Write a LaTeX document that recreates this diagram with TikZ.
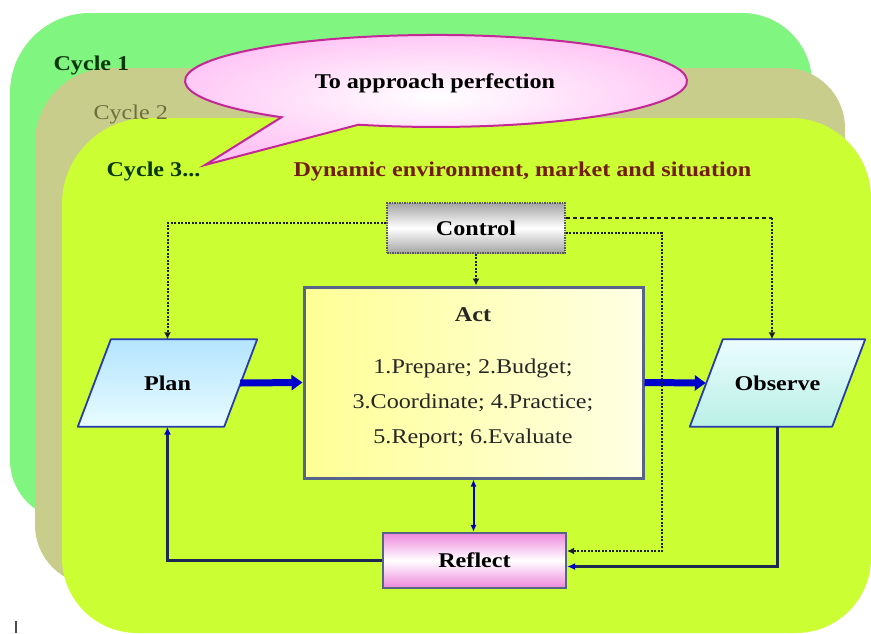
\documentclass[tikz,border=0pt]{standalone}
\usepackage{fontspec}
\setmainfont{Liberation Serif}[FakeStretch=1.15]
\usetikzlibrary{arrows.meta,calc}
\definecolor{cgreen}{RGB}{128,245,128}
\definecolor{colive}{RGB}{200,205,140}
\definecolor{cyell}{RGB}{204,255,51}
\definecolor{txtgreen}{RGB}{10,55,10}
\definecolor{txtolive}{RGB}{110,110,60}
\definecolor{txtred}{RGB}{115,30,20}
\definecolor{callpink}{RGB}{255,195,245}
\definecolor{callborder}{RGB}{195,40,150}
\definecolor{pblue}{RGB}{40,60,170}
\definecolor{planT}{RGB}{180,228,255}
\definecolor{planB}{RGB}{232,252,255}
\definecolor{obsT}{RGB}{235,252,255}
\definecolor{obsB}{RGB}{185,240,230}
\definecolor{actborder}{RGB}{85,100,135}
\definecolor{actL}{RGB}{255,255,150}
\definecolor{actR}{RGB}{255,255,228}
\definecolor{ctrlgray}{RGB}{165,165,165}
\definecolor{ctrlborder}{RGB}{90,90,90}
\definecolor{reflpink}{RGB}{238,135,220}
\definecolor{arrowblue}{RGB}{0,0,205}
\definecolor{linecol}{RGB}{30,40,80}
\definecolor{dotcol}{RGB}{30,30,30}
\begin{document}
\begin{tikzpicture}[x=1pt,y=-1pt,
  every node/.style={font=\fontsize{21}{25}\selectfont},
  lbl/.style={font=\fontsize{21}{25}\selectfont\bfseries},
  parabox/.style={minimum width=179pt, minimum height=87pt, inner sep=0pt},
  parashape/.style={draw=pblue, line width=1.8pt, line join=round},
  bigarrow/.style={line width=7pt, draw=arrowblue, -{Triangle[length=11pt,width=15pt]}},
  dotline/.style={draw=dotcol, line width=2pt, dash pattern=on 2pt off 1.5pt,
    -{Latex[length=7pt,width=7pt]}},
  dashline/.style={draw=dotcol, line width=1.8pt, dash pattern=on 4pt off 3pt},
  fbline/.style={draw=linecol, line width=2.2pt, -{Latex[length=8pt,width=7pt,color=arrowblue]}},
  bothline/.style={draw=arrowblue!85!black, line width=2pt,
    {Latex[length=7pt,width=6pt]}-{Latex[length=7pt,width=6pt]}}
]
\useasboundingbox (0,0) rectangle (871,633);
\fill[white] (0,0) rectangle (871,633);
% cycle 1
\fill[cgreen] (10,93) arc[start angle=180,end angle=270,radius=80] -- (742,13)
  arc[start angle=270,end angle=360,radius=70] -- (812,460)
  arc[start angle=0,end angle=90,radius=60] -- (70,520)
  arc[start angle=90,end angle=180,radius=60] -- cycle;
% cycle 2
\fill[colive] (35,143) arc[start angle=180,end angle=270,radius=75] -- (785,68)
  arc[start angle=270,end angle=360,radius=60] -- (845,525)
  arc[start angle=0,end angle=90,radius=60] -- (95,585)
  arc[start angle=90,end angle=180,radius=60] -- cycle;
% cycle 3
\fill[cyell] (62,204) arc[start angle=180,end angle=270,radius=86] -- (791,118)
  arc[start angle=270,end angle=360,radius=80] -- (871,558)
  arc[start angle=0,end angle=90,radius=75] -- (137,633)
  arc[start angle=90,end angle=180,radius=75] -- cycle;
\draw[line width=1.5pt, black!70] (16,621) -- (16,633);
% cycle labels
\node[lbl, text=txtgreen, anchor=west] (c1) at (50,65) {Cycle 1};
\node[text=txtolive, anchor=west] (c2) at (90,114) {Cycle 2};
\node[lbl, text=txtgreen, anchor=west] (c3) at (103,171) {Cycle 3...};
\node[lbl, text=txtred, anchor=west] (dyn) at (290,171) {Dynamic environment, market and situation};
% callout
\shadedraw[inner color=white, outer color=callpink, draw=callborder, line width=2pt]
  (281.5,117.2) arc[start angle=128,end angle=468,x radius=251,y radius=46]
  -- (205,165) -- cycle;
\node[lbl] (perf) at (435,83) {To approach perfection};
% boxes
\node[draw=ctrlborder, line width=1.5pt, dash pattern=on 1.5pt off 1pt,
  top color=ctrlgray, bottom color=ctrlgray, middle color=white,
  minimum width=178pt, minimum height=50pt, lbl] (ctrl) at (476,228) {Control};
\node[draw=actborder, line width=3pt, left color=actL, right color=actR,
  minimum width=339pt, minimum height=191pt] (act) at (473.5,382.5) {};
\node[lbl, text=black!85] (acttitle) at (473,315) {Act};
\node[align=center, text=black!85, font=\fontsize{21}{35}\selectfont] (actbody) at (473,403)
  {1.Prepare; 2.Budget;\\3.Coordinate; 4.Practice;\\5.Report; 6.Evaluate};
% plan parallelogram
\node[parabox] (plan) at (167.5,383) {};
\shadedraw[parashape, top color=planT, bottom color=planB]
  ([xshift=33pt]plan.north west) -- (plan.north east)
  -- ([xshift=-33pt]plan.south east) -- (plan.south west) -- cycle;
\node[lbl] (plantxt) at (plan.center) {Plan};
% observe parallelogram
\node[parabox, minimum width=175pt] (obs) at (777.5,383) {};
\shadedraw[parashape, top color=obsT, bottom color=obsB]
  ([xshift=33pt]obs.north west) -- (obs.north east)
  -- ([xshift=-33pt]obs.south east) -- (obs.south west) -- cycle;
\node[lbl] (obstxt) at (obs.center) {Observe};
\node[draw=actborder, line width=2.2pt, top color=reflpink, bottom color=reflpink,
  middle color=white, minimum width=183pt, minimum height=55pt, lbl] (refl) at (474.5,560.5) {Reflect};
% connectors
\draw[bigarrow] ([xshift=-17pt]plan.east) -- (act.west);
\draw[bigarrow] (act.east) -- ([xshift=16pt]obs.west);
\draw[dotline] (ctrl.south) -- (ctrl.south |- act.north);
\draw[dotline] ([yshift=5pt]ctrl.west) -| (plan.north);
\coordinate (cobs) at (772,218);
\draw[dashline] ([yshift=10pt]ctrl.east) -- (cobs);
\draw[dotline] (cobs) -- (cobs |- obs.north);
\coordinate (cref) at (662,551);
\draw[dotline] ([yshift=-5pt]ctrl.east) -| (cref) -- (cref -| refl.east);
\draw[bothline] (act.south) -- (act.south |- refl.north);
\draw[fbline] (refl.west) -| (plan.south);
\draw[fbline] (obs.south) |- ([yshift=-6pt]refl.east);
\end{tikzpicture}
\end{document}
